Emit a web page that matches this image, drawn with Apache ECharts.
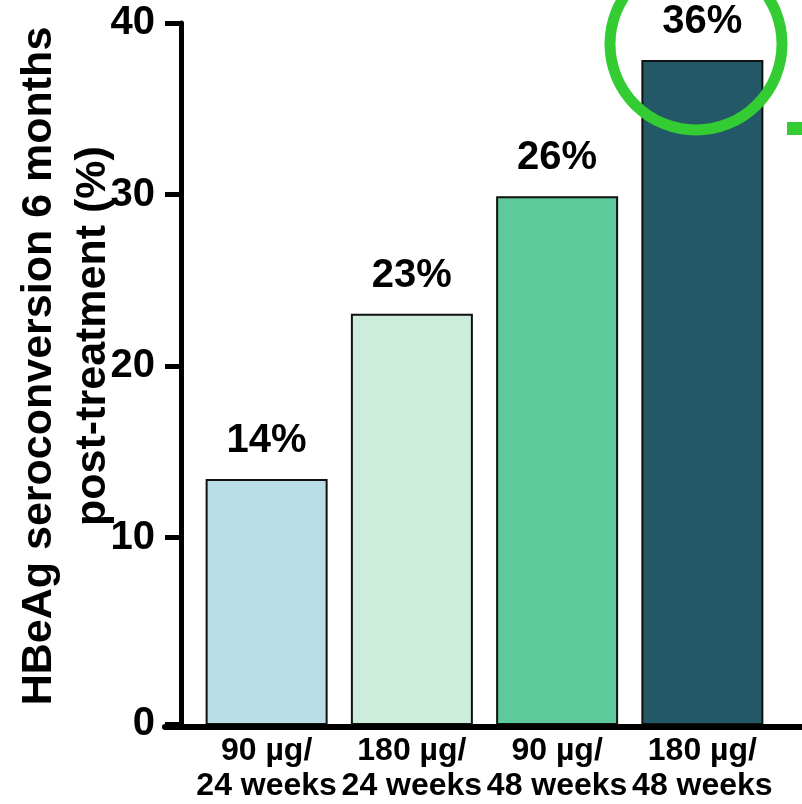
<!DOCTYPE html>
<html>
<head>
<meta charset="utf-8">
<script src="https://cdn.jsdelivr.net/npm/echarts@6/dist/echarts.min.js"></script>
<style>
html,body{margin:0;padding:0;background:#fff;}
#chart{width:802px;height:804px;}
</style>
</head>
<body>
<div id="chart"></div>
<script>
const categories = ['90 µg/\n24 weeks', '180 µg/\n24 weeks', '90 µg/\n48 weeks', '180 µg/\n48 weeks'];
const values = [13.35, 22.99, 29.84, 37.79];
const barLabels = ['14%', '23%', '26%', '36%'];
const barColors = ['#b9dee7', '#ccecdc', '#5ec99a', '#235867'];
// the original axis puts its "0" tick on the offset baseline, slightly below true zero
const Y_MIN = -0.87;
const yTicks = [Y_MIN, 10, 20, 30, 40];
const yTickLabels = ['0', '10', '20', '30', '40'];
const titleLines = ['HBeAg seroconversion 6 months', 'post-treatment (%)'];

const FONT = 'Liberation Sans, Arial, Helvetica, sans-serif';
const BAR_WIDTH = 120;
const chart = echarts.init(document.getElementById('chart'), null, {renderer: 'canvas'});

chart.setOption({
  animation: false,
  backgroundColor: '#ffffff',
  grid: [
    {left: 194, right: 27, top: 23, bottom: 77, containLabel: false},
    {left: 165, right: 0, top: 23, bottom: 77, containLabel: false}
  ],
  xAxis: [
    {
      type: 'category', gridIndex: 0, data: categories,
      axisLine: {show: false}, axisTick: {show: false},
      axisLabel: {
        interval: 0, hideOverlap: false, margin: 10,
        color: '#000', fontFamily: FONT, fontWeight: 'bold', fontSize: 32, lineHeight: 35
      }
    },
    {
      type: 'value', gridIndex: 1, min: 0, max: 1, z: 5,
      axisLine: {show: true, onZero: false, lineStyle: {color: '#000', width: 6}},
      axisTick: {show: false}, axisLabel: {show: false}, splitLine: {show: false}
    }
  ],
  yAxis: [
    {
      type: 'value', gridIndex: 0, min: Y_MIN, max: 40,
      offset: 13,
      axisLine: {show: true, onZero: false, lineStyle: {color: '#000', width: 5}},
      axisTick: {show: true, inside: false, length: 16, customValues: yTicks, lineStyle: {color: '#000', width: 5}},
      splitLine: {show: false},
      axisLabel: {
        customValues: yTicks,
        margin: 26, color: '#000', fontFamily: FONT, fontWeight: 'bold', fontSize: 40,
        formatter: v => {
          const k = yTicks.findIndex(t => Math.abs(t - v) < 1e-6);
          return k >= 0 ? yTickLabels[k] : '';
        }
      }
    },
    {type: 'value', gridIndex: 1, show: false, min: 0, max: 1}
  ],
  series: [{
    type: 'custom', xAxisIndex: 0, yAxisIndex: 0,
    data: values.map((v, i) => [i, v]),
    encode: {x: 0, y: 1},
    renderItem: (params, api) => {
      const i = api.value(0);
      const v = api.value(1);
      const top = api.coord([i, v]);
      const base = api.coord([i, Y_MIN]);
      return {
        type: 'group',
        children: [
          {
            type: 'rect',
            shape: {x: top[0] - BAR_WIDTH / 2, y: top[1], width: BAR_WIDTH, height: base[1] - top[1]},
            style: {fill: barColors[i], stroke: '#111', lineWidth: 2}
          },
          {
            type: 'text', x: top[0], y: top[1] - 19,
            style: {text: barLabels[i], fill: '#000', font: 'bold 40px ' + FONT, align: 'center', verticalAlign: 'bottom'}
          }
        ]
      };
    }
  }],
  graphic: [
    {
      type: 'text', x: 39, y: 366, rotation: Math.PI / 2, z: 10,
      style: {text: titleLines[0], fill: '#000', font: 'bold 43px ' + FONT, align: 'center', verticalAlign: 'middle'}
    },
    {
      type: 'text', x: 93, y: 336, rotation: Math.PI / 2, z: 10,
      style: {text: titleLines[1], fill: '#000', font: 'bold 43px ' + FONT, align: 'center', verticalAlign: 'middle'}
    },
    {
      type: 'circle', x: 696, y: 44, z: 20,
      shape: {cx: 0, cy: 0, r: 86},
      style: {fill: null, stroke: '#33cc33', lineWidth: 11}
    },
    {
      type: 'rect', x: 787, y: 122, z: 20,
      shape: {x: 0, y: 0, width: 15, height: 13},
      style: {fill: '#33cc33'}
    }
  ]
});
</script>
</body>
</html>
